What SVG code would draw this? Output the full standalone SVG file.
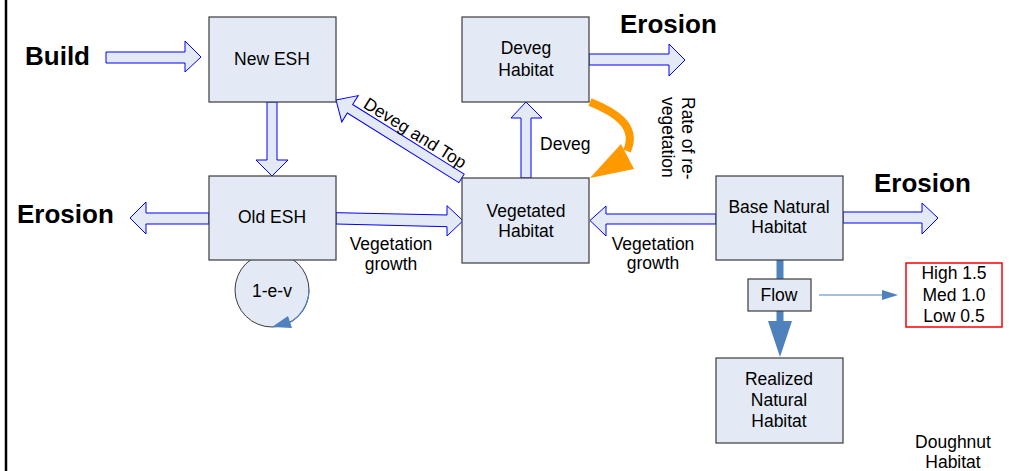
<svg xmlns="http://www.w3.org/2000/svg" width="1009" height="471" viewBox="0 0 1009 471">
<defs>
<style>
.box{fill:#E4EAF5;stroke:#3a3a3a;stroke-width:1.2}
.blk{fill:#E4EAF5;stroke:#0000FF;stroke-width:1}
text{font-family:"Liberation Sans",Arial,sans-serif;fill:#000}
.t{font-size:17.5px;text-anchor:middle}
.tl{font-size:17.5px}
.big{font-size:26px;font-weight:bold}
</style>
</defs>
<rect width="1009" height="471" fill="#fff"/>
<line x1="6" y1="0" x2="6" y2="471" stroke="#000" stroke-width="2.5"/>

<g id="connectors">
  <!-- Build -> New ESH -->
  <polygon class="blk" points="106,52 185,52 185,41 201,57 185,72 185,63 106,63"/>
  <!-- New ESH -> Old ESH -->
  <polygon class="blk" points="267,102 277,102 277,160 288,160 272,176 256,160 267,160"/>
  <!-- Old ESH -> Erosion (left) -->
  <polygon class="blk" points="209,213 146,213 146,202 130,218 146,234 146,224 209,224"/>
  <!-- Old ESH -> Vegetated -->
  <polygon class="blk" points="336,212.7 447,215 447,205.7 463,220.7 447,236 447,226.7 336,224"/>
  <!-- Vegetated -> New ESH (Deveg and Top) -->
  <g transform="translate(336,100) rotate(32)">
    <polygon class="blk" points="0,0 16.5,-15.5 16.5,-5 148,-5 148,5 16.5,5 16.5,15.5"/>
    <text class="tl" x="26" y="-8">Deveg and Top</text>
  </g>
  <!-- Vegetated -> Deveg -->
  <polygon class="blk" points="521,178 521,118 511,118 526,102 542,118 531,118 531,178"/>
  <!-- Deveg -> Erosion (top) -->
  <polygon class="blk" points="589,54 669,54 669,44 685,60 669,76 669,65 589,65"/>
  <!-- Base -> Vegetated -->
  <polygon class="blk" points="716,214 606,214 606,206 590,220.5 606,236 606,224 716,224"/>
  <!-- Base -> Erosion (right) -->
  <polygon class="blk" points="843,212 922,212 922,203 938,218 922,234 922,223 843,223"/>
  <!-- Orange rate of re-vegetation -->
  <path d="M590,102 C615,112 638,126 627,151" fill="none" stroke="#FF9900" stroke-width="8"/>
  <polygon points="590,178 621,144 634,169" fill="#FF9900"/>
  <!-- Base -> Flow -> Realized -->
  <line x1="780" y1="260" x2="780" y2="279" stroke="#4F81BD" stroke-width="7"/>
  <line x1="780" y1="311" x2="780" y2="323" stroke="#4F81BD" stroke-width="7"/>
  <polygon points="768,321 792,321 780,357" fill="#4F81BD"/>
  <!-- Flow -> values -->
  <line x1="819" y1="295" x2="884" y2="295" stroke="#4F81BD" stroke-width="1"/>
  <polygon points="882,290 898,295 882,300" fill="#4F81BD"/>
</g>

<text class="big" x="25" y="65">Build</text>
<text class="big" x="17" y="223">Erosion</text>
<text class="big" x="620" y="33">Erosion</text>
<text class="big" x="874" y="192">Erosion</text>

<text class="t" x="391" y="250">Vegetation</text>
<text class="t" x="391" y="270">growth</text>
<text class="t" x="653" y="250">Vegetation</text>
<text class="t" x="653" y="269">growth</text>
<text class="tl" x="540" y="150">Deveg</text>
<g transform="translate(682,97) rotate(90)">
  <text class="tl" x="0" y="0">Rate of re-</text>
  <text class="tl" x="0" y="20">vegetation</text>
</g>

<g id="loop">
  <circle cx="272" cy="290" r="37" fill="#E4EAF5" stroke="#3a3a3a" stroke-width="1"/>
  <path d="M309,290 A37,37 0 0 1 282,325.6" fill="none" stroke="#4F81BD" stroke-width="1.2"/>
  <polygon points="272,327 288,316 292,328" fill="#4F81BD"/>
  <text class="t" x="272" y="297">1-e-v</text>
</g>

<g id="new-esh">
  <rect class="box" x="209" y="17" width="127" height="85"/>
  <text class="t" x="272" y="65">New ESH</text>
</g>
<g id="old-esh">
  <rect class="box" x="209" y="176" width="127" height="84"/>
  <text class="t" x="272" y="223">Old ESH</text>
</g>
<g id="deveg-habitat">
  <rect class="box" x="462" y="17" width="127" height="85"/>
  <text class="t" x="526" y="54">Deveg</text>
  <text class="t" x="526" y="76">Habitat</text>
</g>
<g id="vegetated-habitat">
  <rect class="box" x="462" y="178" width="127" height="85"/>
  <text class="t" x="526" y="217">Vegetated</text>
  <text class="t" x="526" y="237">Habitat</text>
</g>
<g id="base-natural-habitat">
  <rect class="box" x="716" y="176" width="127" height="84"/>
  <text class="t" x="779" y="213">Base Natural</text>
  <text class="t" x="779" y="233">Habitat</text>
</g>
<g id="flow">
  <rect class="box" x="748" y="279" width="63" height="32"/>
  <text class="t" x="779" y="301">Flow</text>
</g>
<g id="values">
  <rect x="906" y="263" width="96" height="64" fill="#fff" stroke="#FF0000" stroke-width="1.5"/>
  <text class="t" x="954" y="279">High 1.5</text>
  <text class="t" x="954" y="301">Med 1.0</text>
  <text class="t" x="954" y="322">Low 0.5</text>
</g>
<g id="realized-natural-habitat">
  <rect class="box" x="716" y="358" width="127" height="85"/>
  <text class="t" x="779" y="385">Realized</text>
  <text class="t" x="779" y="406">Natural</text>
  <text class="t" x="779" y="427">Habitat</text>
</g>
<g id="doughnut-habitat">
  <text class="t" x="953" y="448">Doughnut</text>
  <text class="t" x="953" y="468">Habitat</text>
</g>
</svg>
